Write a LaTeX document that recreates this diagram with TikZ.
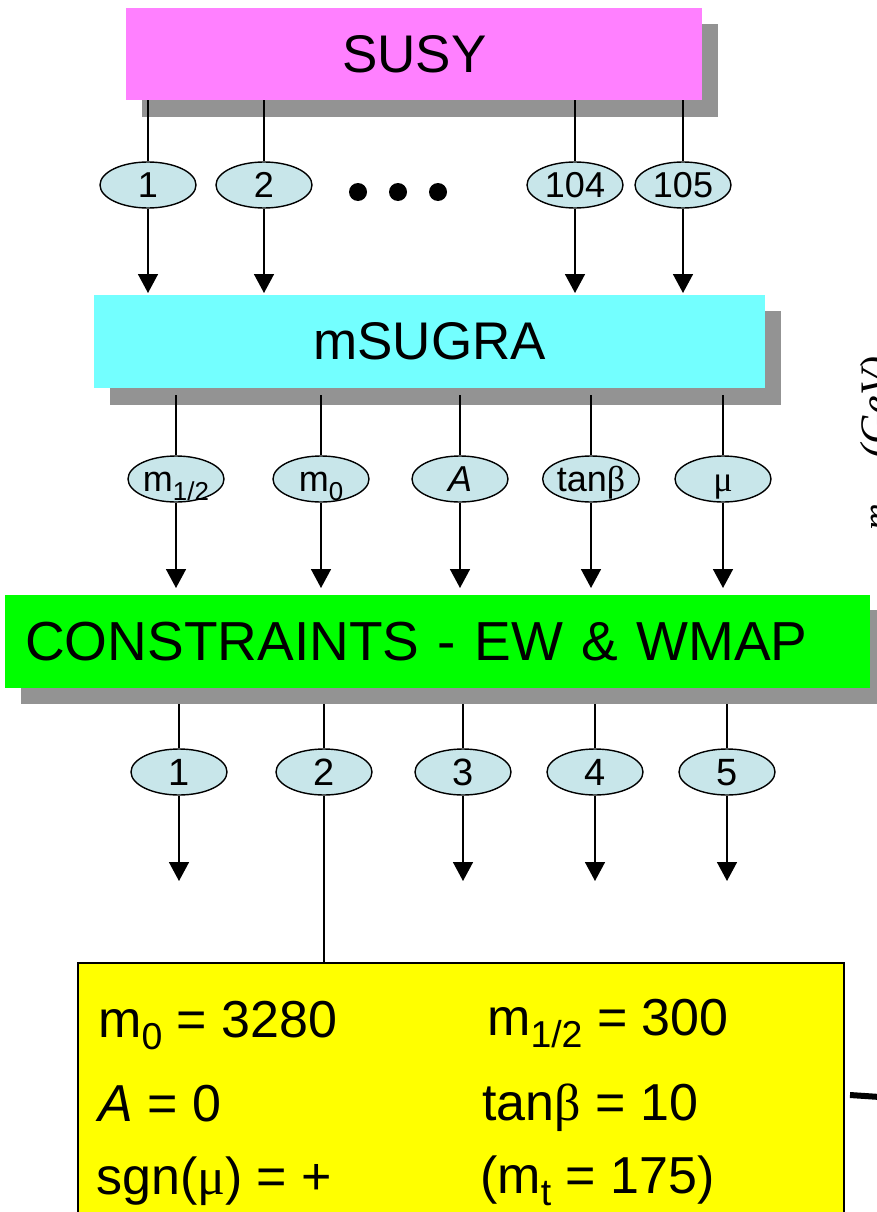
\documentclass[tikz,border=0pt]{standalone}
\usepackage{fontspec}
\usepackage{graphicx}
\setmainfont{Liberation Sans}
\newfontfamily\grk{Liberation Serif}
\newfontfamily\tms{Liberation Serif}
\usetikzlibrary{shapes.geometric,arrows.meta,calc}
\definecolor{susypink}{HTML}{FF80FF}
\definecolor{sugracyan}{HTML}{73FFFF}
\definecolor{consgreen}{HTML}{00FF00}
\definecolor{resyellow}{HTML}{FFFF00}
\definecolor{shadowgray}{HTML}{939393}
\definecolor{ellblue}{HTML}{C8E6EA}
\newcommand\lowsub[1]{\raisebox{-0.24em}{\scalebox{0.72}{#1}}}
\newcommand\gmu{{\grk μ}}
\newcommand\gbeta{{\grk β}}
\tikzset{
  bigbox/.style={anchor=north west, inner sep=0pt, draw=none, font=\fontsize{53}{60}\selectfont},
  shadowrect/.style={fill=shadowgray},
  parm/.style={ellipse, draw=black, line width=1.4pt, fill=ellblue, minimum width=96pt, minimum height=46pt, inner sep=0pt, font=\fontsize{36}{40}\selectfont, text height=25pt, text depth=0pt},
  parmb/.style={parm, font=\fontsize{38}{42}\selectfont, text height=27pt},
  conn/.style={line width=1.6pt, draw=black},
  arr/.style={conn, -{Triangle[width=20pt,length=19pt]}},
  restext/.style={anchor=base west, inner sep=0pt, font=\fontsize{52}{60}\selectfont},
  dotnode/.style={circle, fill=black, minimum size=18pt, inner sep=0pt},
}
\begin{document}
\begin{tikzpicture}[x=1pt,y=-1pt]
\useasboundingbox (0,0) rectangle (877,1212);
\clip (0,0) rectangle (877,1212);
% shadows
\fill[shadowrect] (142,24) rectangle (718,117);
\fill[shadowrect] (110,311) rectangle (781,405);
\fill[shadowrect] (21,610) rectangle (890,704);
% boxes
\node[bigbox, fill=susypink, minimum width=576pt, minimum height=92pt] (susy) at (126,8) {SUSY};
\node[bigbox, fill=sugracyan, minimum width=671pt, minimum height=93pt] (msugra) at (94,295) {mSUGRA};
\node[bigbox, fill=consgreen, minimum width=865pt, minimum height=93pt, inner xsep=20pt, text width=825pt, align=left, font=\fontsize{55}{60}\selectfont] (cons) at (5,595) {CONSTRAINTS - EW \& WMAP};
\node[anchor=north west, inner sep=0pt, draw=black, line width=1.6pt, fill=resyellow, minimum width=766pt, minimum height=300pt] (ybox) at (77,962) {};
% row 1
\node[parm] (e11) at (148,185) {1};
\node[parm] (e12) at (264,185) {2};
\node[parm] (e13) at (575,185) {104};
\node[parm] (e14) at (683,185) {105};
\node[dotnode] (d1) at (358,192) {};
\node[dotnode] (d2) at (398,192) {};
\node[dotnode] (d3) at (438,192) {};
% row 2
\node[parm] (e21) at (176,479) {m\lowsub{1/2}};
\node[parm] (e22) at (321,479) {m\lowsub{0}};
\node[parm] (e23) at (460,479) {\itshape A};
\node[parm] (e24) at (591,479) {tan\gbeta};
\node[parm] (e25) at (723,479) {\gmu};
% row 3
\node[parmb] (e31) at (179,772) {1};
\node[parmb] (e32) at (324,772) {2};
\node[parmb] (e33) at (463,772) {3};
\node[parmb] (e34) at (595,772) {4};
\node[parmb] (e35) at (727,772) {5};
\coordinate (t31) at (179,881);
\coordinate (t33) at (463,881);
\coordinate (t34) at (595,881);
\coordinate (t35) at (727,881);
% connectors row 1
\foreach \e in {e11,e12,e13,e14}{
  \draw[conn] (susy.south -| \e) -- (\e.north);
  \draw[arr] (\e.south) -- ($(\e |- msugra.north)+(0,-2)$);
}
% connectors row 2
\foreach \e in {e21,e22,e23,e24,e25}{
  \draw[conn] ($(msugra.south -| \e)+(0,7)$) -- (\e.north);
  \draw[arr] (\e.south) -- ($(\e |- cons.north)+(0,-7)$);
}
% connectors row 3
\foreach \e in {e31,e32,e33,e34,e35}{
  \draw[conn] ($(cons.south -| \e)+(0,16)$) -- (\e.north);
}
\draw[arr] (e31.south) -- (t31);
\draw[arr] (e33.south) -- (t33);
\draw[arr] (e34.south) -- (t34);
\draw[arr] (e35.south) -- (t35);
\draw[conn] (e32.south) -- (e32 |- ybox.north);
% result text
\node[restext] (r1) at (98,1037) {m\lowsub{0} = 3280};
\node[restext] (r2) at (98,1121) {\itshape A\upshape{} = 0};
\node[restext] (r3) at (96,1194) {sgn(\gmu) = +};
\node[restext] (r4) at (487,1035) {m\lowsub{1/2} = 300};
\node[restext] (r5) at (482,1120) {tan\gbeta{} = 10};
\node[restext] (r6) at (480,1193) {(m\lowsub{t} = 175)};
% fragments of neighbouring figure
\node[rotate=90, anchor=base west, inner sep=0pt, font=\tms\itshape\fontsize{37}{40}\selectfont] (axm) at (888,531) {m};
\node[rotate=90, anchor=base west, inner sep=0pt, font=\tms\itshape\fontsize{42}{44}\selectfont] (axg) at (889,459) {(GeV)};
\coordinate (da) at (850,1095);
\coordinate (db) at (880,1097);
\draw[line width=6pt] (da) -- (db);
\end{tikzpicture}
\end{document}
